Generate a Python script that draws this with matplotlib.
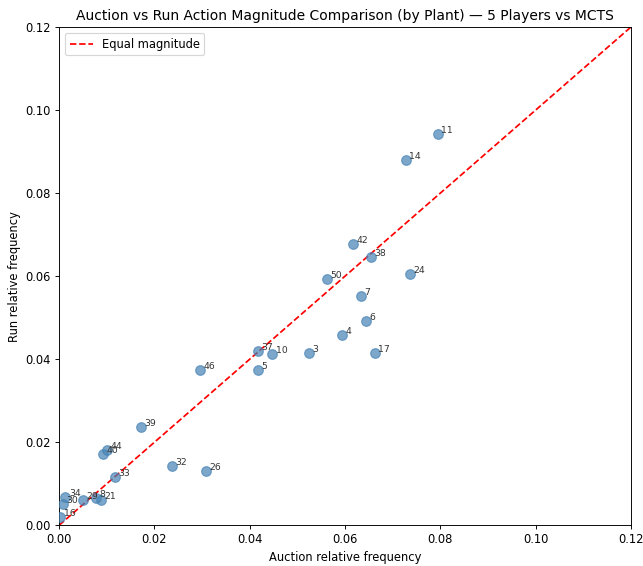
import matplotlib
matplotlib.use("Agg")
import matplotlib.pyplot as plt

# plant ids and relative frequencies
plants = [11, 14, 42, 38, 50, 24, 7, 6, 4, 3, 17, 37, 10, 5, 46, 39, 44, 40,
          33, 32, 26, 34, 30, 29, 8, 21, 16]
auction_freq = [0.0795, 0.0728, 0.0617, 0.0655, 0.0562, 0.0736, 0.0634, 0.0644,
                0.0594, 0.0524, 0.0663, 0.0417, 0.0447, 0.0417, 0.0296, 0.0172,
                0.0101, 0.0092, 0.0117, 0.0237, 0.0308, 0.0013, 0.0008, 0.0050,
                0.0078, 0.0088, 0.0002]
run_freq = [0.0942, 0.0880, 0.0677, 0.0646, 0.0593, 0.0605, 0.0552, 0.0492,
            0.0458, 0.0414, 0.0414, 0.0419, 0.0412, 0.0373, 0.0373, 0.0236,
            0.0181, 0.0171, 0.0116, 0.0142, 0.0130, 0.0067, 0.0051, 0.0060,
            0.0065, 0.0060, 0.0020]
lim = 0.12

dpi = 83
fig, ax = plt.subplots(figsize=(643 / dpi, 566 / dpi), dpi=dpi)
fig.subplots_adjust(left=0.092, right=0.981, top=0.952, bottom=0.072)

ax.scatter(auction_freq, run_freq, s=70, color='steelblue', alpha=0.7, zorder=3)
for p, x, y in zip(plants, auction_freq, run_freq):
    ax.annotate(str(p), (x, y), xytext=(3, 1), textcoords='offset points',
                fontsize=8, color='#333333')

ax.plot([0, lim], [0, lim], 'r--', label='Equal magnitude')
ax.set_xlim(0, lim)
ax.set_ylim(0, lim)
ax.set_xlabel('Auction relative frequency')
ax.set_ylabel('Run relative frequency')
ax.set_title('Auction vs Run Action Magnitude Comparison (by Plant) \u2014 5 Players vs MCTS')
ax.legend(loc='upper left')

fig.savefig('out.png', dpi=dpi)
